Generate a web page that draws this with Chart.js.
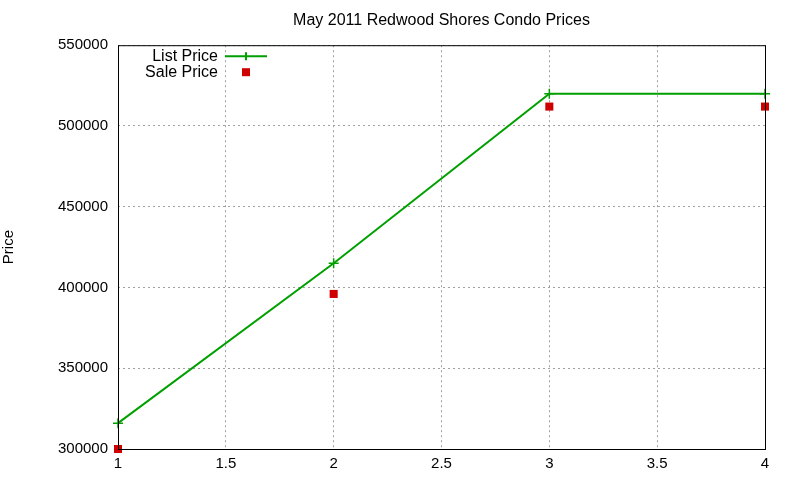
<!DOCTYPE html>
<html>
<head>
<meta charset="utf-8">
<script src="https://cdn.jsdelivr.net/npm/chart.js@4"></script>
<style>
  html, body { margin: 0; padding: 0; background: #fff; }
  #wrap { width: 800px; height: 480px; }
</style>
</head>
<body>
<div id="wrap"><canvas id="chart"></canvas></div>
<script>
// data
var listX = [1, 2, 3, 4];
var listPrice = [316000, 415000, 520000, 520000];
var saleX = [1, 2, 3, 4];
var salePrice = [300000, 396000, 512000, 512000];

var FONT = "'Liberation Sans', Arial, sans-serif";

function toPoints(xs, ys) {
  return xs.map(function (x, i) { return { x: x, y: ys[i] }; });
}

// box border + legend inside the plot, gnuplot style
var framePlugin = {
  id: 'frame',
  afterDraw: function (chart) {
    var ctx = chart.ctx, a = chart.chartArea;
    ctx.save();
    ctx.strokeStyle = '#000';
    ctx.lineWidth = 1;
    ctx.strokeRect(a.left + 0.5, a.top + 0.5, a.right - a.left, a.bottom - a.top);

    ctx.font = '16px ' + FONT;
    ctx.fillStyle = '#000';
    ctx.textAlign = 'right';
    ctx.textBaseline = 'middle';
    var ds = chart.data.datasets;
    var tx = a.left + 100, sx1 = a.left + 107, sx2 = a.left + 149, mx = a.left + 128;
    var y0 = a.top + 11, y1 = a.top + 27;
    ctx.fillText(ds[0].label, tx, y0);
    ctx.fillText(ds[1].label, tx, y1);
    ctx.strokeStyle = ds[0].borderColor;
    ctx.lineWidth = 2;
    ctx.beginPath();
    ctx.moveTo(sx1, y0); ctx.lineTo(sx2, y0);
    ctx.moveTo(mx, y0 - 4); ctx.lineTo(mx, y0 + 4);
    ctx.stroke();
    ctx.fillStyle = ds[1].backgroundColor;
    ctx.fillRect(mx - 4, y1 - 4, 8, 8);
    ctx.restore();
  }
};

new Chart(document.getElementById('chart'), {
  type: 'scatter',
  data: {
    datasets: [{
      label: 'List Price',
      data: toPoints(listX, listPrice),
      showLine: true,
      borderColor: '#00a000',
      backgroundColor: '#00a000',
      borderWidth: 2,
      pointStyle: 'cross',
      pointRadius: 5,
      pointBorderWidth: 1.5,
      pointHoverRadius: 5,
      clip: false
    }, {
      label: 'Sale Price',
      data: toPoints(saleX, salePrice),
      showLine: false,
      borderColor: '#d00000',
      backgroundColor: '#d00000',
      pointStyle: 'rect',
      pointRadius: 5.7,
      pointBorderWidth: 0,
      pointHoverRadius: 5.7,
      clip: false
    }]
  },
  options: {
    responsive: true,
    maintainAspectRatio: false,
    animation: false,
    layout: { padding: { left: 0, right: 35, top: 0, bottom: 0 } },
    plugins: {
      legend: { display: false },
      tooltip: { enabled: false },
      title: {
        display: true,
        fullSize: false,
        text: 'May 2011 Redwood Shores Condo Prices',
        color: '#000',
        font: { family: FONT, size: 16, weight: 'normal' },
        padding: { top: 11, bottom: 15 }
      }
    },
    scales: {
      x: {
        type: 'linear',
        min: 1,
        max: 4,
        afterFit: function (s) { s.height = 31; },
        ticks: {
          stepSize: 0.5, color: '#000', font: { family: FONT, size: 15 }, padding: 6, maxRotation: 0,
          callback: function (v) { return String(v); }
        },
        grid: { color: '#a0a0a0', lineWidth: 1, drawTicks: false },
        border: { display: false, dash: [2, 3] }
      },
      y: {
        min: 300000,
        max: 550000,
        afterFit: function (s) { s.width = 118; },
        ticks: {
          stepSize: 50000, color: '#000', font: { family: FONT, size: 15 }, padding: 10,
          callback: function (v) { return String(v); }
        },
        grid: { color: '#a0a0a0', lineWidth: 1, drawTicks: false },
        border: { display: false, dash: [2, 3] },
        title: { display: true, text: 'Price', color: '#000', font: { family: FONT, size: 15 }, padding: 0 }
      }
    }
  },
  plugins: [framePlugin]
});
</script>
</body>
</html>
